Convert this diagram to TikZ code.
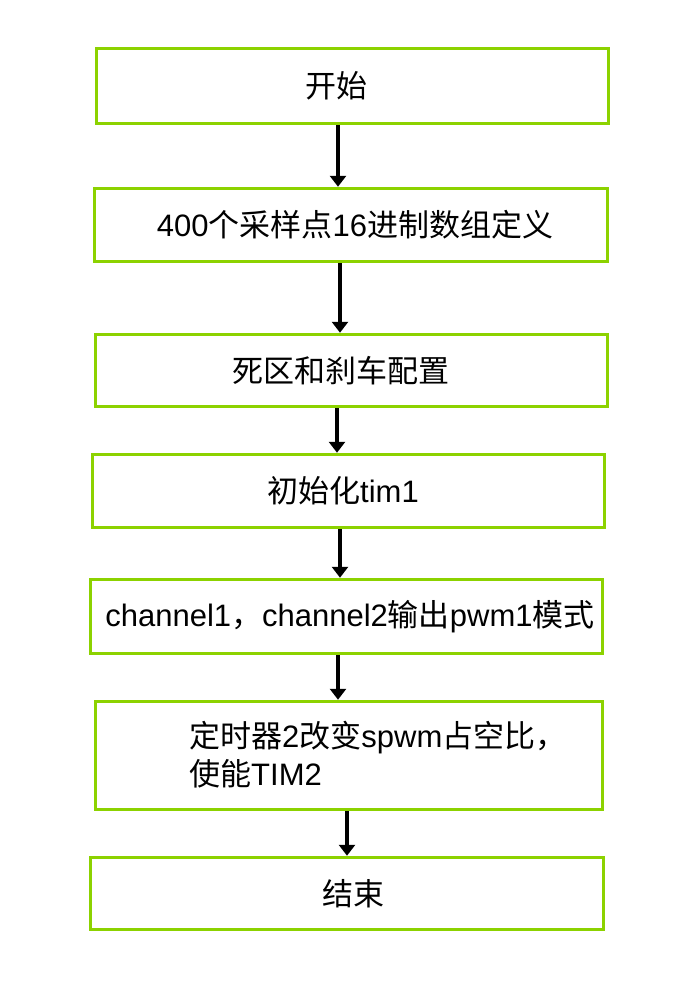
\documentclass[tikz,border=0pt]{standalone}
\usepackage{fontspec}
\setmainfont{Liberation Sans}
\newfontfamily\cjk{Noto Sans CJK SC}
\usepackage{xcolor}
\usepackage{tikz}
\usetikzlibrary{positioning,arrows.meta}

\definecolor{boxgreen}{RGB}{140,210,0}

\begin{document}
\begin{tikzpicture}[x=1pt, y=1pt,
    stepbox/.style={draw=boxgreen, line width=3.5pt, minimum width=512pt, inner sep=0pt, font=\fontsize{31}{38}\selectfont},
    flow/.style={-{Triangle[width=16pt,length=11pt]}, line width=3.5pt}]
            \useasboundingbox (0,0) rectangle (673,-989);

            % Steps
            \node[stepbox, minimum height=75pt] (start) at (352.5,-86) {\hspace*{-32pt}{\cjk 开始}};
            \node[stepbox, minimum height=73pt, minimum width=513pt] (table) at (351,-225) {\hspace*{8pt}400{\cjk 个采样点}16{\cjk 进制数组定义}};
            \node[stepbox, minimum height=72pt] (brake) at (351.5,-370.5) {\hspace*{-22pt}{\cjk 死区和刹车配置}};
            \node[stepbox, minimum height=73pt] (tim1) at (348.5,-491) {\hspace*{-11pt}{\cjk 初始化}tim1};
            \node[stepbox, minimum height=74pt] (pwm) at (346.5,-616.5) {\hspace*{7pt}channel1{\cjk ，}channel2{\cjk 输出}pwm1{\cjk 模式}};
            \node[stepbox, minimum height=108pt, minimum width=507pt] (tim2) at (349,-755.5) {};
            \node[anchor=west, align=left, inner sep=0pt, font=\fontsize{31}{38}\selectfont] (tim2text) at (189,-755) {{\cjk 定时器}2{\cjk 改变}spwm{\cjk 占空比，}\\{\cjk 使能}TIM2};
            \node[stepbox, minimum height=72pt, minimum width=513pt] (stop) at (347,-893.5) {\hspace*{12pt}{\cjk 结束}};

            % Arrows
            \draw[flow] ([xshift=-14.5pt]start.south) -- ([xshift=-14.5pt]start.south |- table.north);
            \draw[flow] ([xshift=-11pt]table.south) -- ([xshift=-11pt]table.south |- brake.north);
            \draw[flow] ([xshift=-14.5pt]brake.south) -- ([xshift=-14.5pt]brake.south |- tim1.north);
            \draw[flow] ([xshift=-8.5pt]tim1.south) -- ([xshift=-8.5pt]tim1.south |- pwm.north);
            \draw[flow] ([xshift=-8.5pt]pwm.south) -- ([xshift=-8.5pt]pwm.south |- tim2.north);
            \draw[flow] ([xshift=-2pt]tim2.south) -- ([xshift=-2pt]tim2.south |- stop.north);
        \end{tikzpicture}
\end{document}
